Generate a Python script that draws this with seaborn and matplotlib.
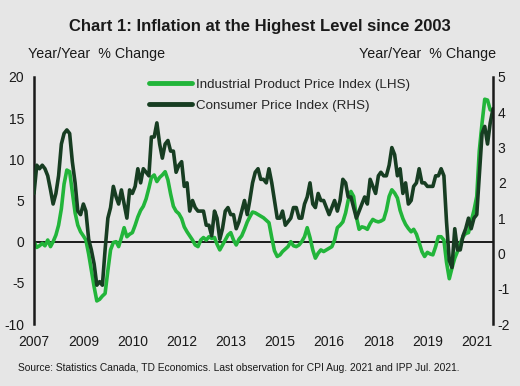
import numpy as np
import pandas as pd
import matplotlib
matplotlib.use('Agg')
import matplotlib.pyplot as plt
import matplotlib.dates as mdates
from matplotlib.lines import Line2D
import seaborn as sns

# y/y % change, monthly, Aug 2007 - Aug 2021 (CPI), Aug 2007 - Jul 2021 (IPP)
cpi = [1.7, 2.5, 2.4, 2.5, 2.4,
       2.2, 1.8, 1.4, 1.7, 2.2, 3.1, 3.4, 3.5, 3.4, 2.6, 2.0, 1.2,
       1.1, 1.4, 1.2, 0.4, 0.1, -0.3, -0.9, -0.8, -0.9, 0.1, 1.0, 1.3,
       1.9, 1.6, 1.4, 1.8, 1.4, 1.0, 1.8, 1.7, 1.9, 2.4, 2.0, 2.4,
       2.3, 2.2, 3.3, 3.3, 3.7, 3.1, 2.7, 3.1, 3.2, 2.9, 2.9, 2.3,
       2.5, 2.6, 1.9, 2.0, 1.2, 1.5, 1.3, 1.2, 1.2, 1.2, 0.8, 0.8,
       0.5, 1.2, 1.0, 0.4, 0.7, 1.2, 1.3, 1.1, 1.1, 0.7, 0.9, 1.2,
       1.5, 1.1, 1.5, 2.0, 2.3, 2.4, 2.1, 2.1, 2.0, 2.4, 2.0, 1.5,
       1.0, 1.0, 1.2, 0.8, 0.9, 1.0, 1.3, 1.3, 1.0, 1.0, 1.4, 1.6,
       2.0, 1.4, 1.3, 1.7, 1.5, 1.5, 1.3, 1.1, 1.3, 1.5, 1.2, 1.5,
       2.1, 2.0, 1.6, 1.6, 1.3, 1.0, 1.2, 1.4, 1.6, 1.4, 2.1, 1.9,
       1.7, 2.2, 2.3, 2.2, 2.2, 2.5, 3.0, 2.8, 2.2, 2.4, 1.7, 2.0,
       1.4, 1.5, 1.9, 2.0, 2.4, 2.0, 2.0, 1.9, 1.9, 1.9, 2.2, 2.2,
       2.4, 2.2, 0.9, -0.2, -0.4, 0.7, 0.1, 0.1, 0.5, 0.7, 1.0, 0.7,
       1.0, 1.1, 2.2, 3.4, 3.6, 3.1, 3.7, 4.1]

ipp = [0.0, -0.7, -0.5, -0.2, -0.5,
       0.2, -0.6, 0.0, 0.8, 2.0, 4.0, 7.0, 8.7, 8.5, 6.0, 3.5, 2.0,
       1.2, 0.7, 0.2, -1.5, -3.5, -5.5, -7.2, -7.0, -6.6, -6.3, -3.5, -1.0,
       -0.1, 0.0, -0.6, 0.5, 1.7, 0.6, 0.9, 1.1, 2.0, 3.0, 3.8, 4.3,
       5.2, 6.5, 7.8, 8.1, 7.3, 7.8, 8.1, 8.5, 7.5, 5.8, 4.3, 3.7,
       3.4, 2.8, 1.8, 1.2, 0.7, 0.2, -0.4, -0.6, 0.2, 0.5, 0.2, 0.6,
       0.4, 0.5, -0.3, -1.0, -0.4, 0.2, 0.8, 1.1, 0.2, -0.4, 0.3, 0.7,
       1.5, 2.4, 3.0, 3.6, 3.5, 3.3, 3.1, 2.9, 2.6, 2.3, 0.5, -1.1,
       -1.8, -1.6, -1.2, -0.9, -0.6, 0.0, -0.5, -0.6, -0.4, 0.0, 0.6, 1.7,
       0.5, -1.0, -2.0, -1.4, -1.0, -1.2, -1.0, -0.8, -0.6, 0.2, 1.7, 2.0,
       2.4, 3.5, 5.0, 6.1, 5.5, 3.0, 1.5, 1.8, 1.7, 1.5, 2.2, 2.7,
       2.5, 2.4, 2.5, 2.7, 3.8, 5.5, 6.3, 5.9, 5.3, 3.8, 2.8, 2.1,
       1.6, 1.2, 1.5, 0.9, -0.1, -1.2, -1.8, -1.3, -1.5, -1.6, -0.6, 0.6,
       0.6, 0.2, -2.5, -4.5, -3.2, -2.0, -1.2, -0.2, 0.6, 1.0, 1.1, 2.5,
       3.8, 5.5, 11.0, 14.4, 17.3, 17.2, 16.0]

dates = pd.date_range('2007-08-01', periods=len(cpi), freq='MS')
df_cpi = pd.DataFrame({'date': dates, 'value': cpi})
df_ipp = pd.DataFrame({'date': dates[:len(ipp)], 'value': ipp})

left_ticks = [-10, -5, 0, 5, 10, 15, 20]
right_ticks = [-2, -1, 0, 1, 2, 3, 4, 5]

bg = '#e6e6e6'
green = '#22b53a'
dark = '#173d22'
ink = '#1a1a1a'

sns.set_theme(style='white', rc={'axes.facecolor': bg, 'figure.facecolor': bg})
plt.rcParams['font.family'] = ['Liberation Sans', 'DejaVu Sans']
plt.rcParams['axes.unicode_minus'] = False

fig = plt.figure(figsize=(5.2, 3.86), dpi=100)
ax = fig.add_axes([34/520, 1-324/386, (493-34)/520, (324-77)/386])
ax2 = ax.twinx()

sns.lineplot(data=df_ipp, x='date', y='value', ax=ax, color=green, lw=2.6)
sns.lineplot(data=df_cpi, x='date', y='value', ax=ax2, color=dark, lw=2.6)
ax.axhline(0, color=ink, lw=1.4, zorder=0)

ax.set_ylim(-10, 20)
ax2.set_ylim(-2, 5)
ax.set_yticks(left_ticks)
ax2.set_yticks(right_ticks)
ax.set_xlim(dates[0], dates[-1])
xt = pd.date_range(dates[0], dates[-1], freq='18MS')
ax.set_xticks(xt)
ax.xaxis.set_major_formatter(mdates.DateFormatter('%Y'))

for a in (ax, ax2):
    a.set_xlabel('')
    a.set_ylabel('')
    a.set_facecolor('none')
    for s in ('top', 'bottom'):
        a.spines[s].set_visible(False)
    a.tick_params(length=0, labelsize=10, colors=ink)
ax.spines['right'].set_visible(False)
ax2.spines['left'].set_visible(False)
ax.spines['left'].set_color(ink)
ax.spines['left'].set_linewidth(1.8)
ax2.spines['right'].set_color(ink)
ax2.spines['right'].set_linewidth(1.8)
ax.tick_params(axis='y', pad=7)
ax2.tick_params(axis='y', pad=3.5)
ax.tick_params(axis='x', pad=8)

handles = [Line2D([], [], color=green, lw=3.5), Line2D([], [], color=dark, lw=3.5)]
ax.legend(handles, ['Industrial Product Price Index (LHS)', 'Consumer Price Index (RHS)'],
          loc='upper left', bbox_to_anchor=(0.24, 1.015), frameon=False, fontsize=9.6,
          handlelength=3.2, handletextpad=0.3, labelspacing=0.65, borderaxespad=0)

fig.text(0.5, 1-26/386, 'Chart 1: Inflation at the Highest Level since 2003',
         ha='center', va='center', fontsize=12, fontweight='bold', color=ink)
fig.text(28/520, 1-54/386, 'Year/Year  % Change', ha='left', va='center', fontsize=10.3, color=ink)
fig.text(496/520, 1-54/386, 'Year/Year  % Change', ha='right', va='center', fontsize=10.3, color=ink)
fig.text(18/520, 1-368/386,
         'Source: Statistics Canada, TD Economics. Last observation for CPI Aug. 2021 and IPP Jul. 2021.',
         ha='left', va='center', fontsize=7.4, color=ink)

fig.savefig('out.png', dpi=100, facecolor=bg)
